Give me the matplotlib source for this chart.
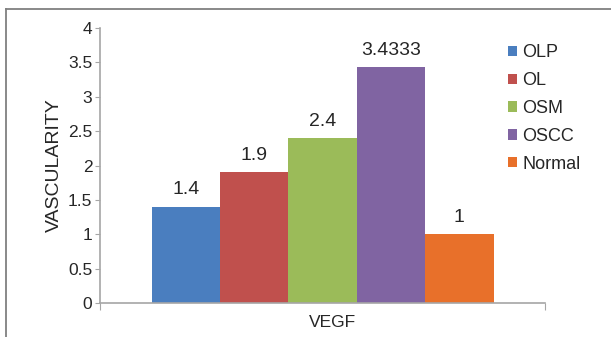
import matplotlib
matplotlib.use("Agg")
import matplotlib.pyplot as plt
from matplotlib.lines import Line2D

plt.rcParams['font.family'] = ['Liberation Sans', 'DejaVu Sans']

groups = ["OLP", "OL", "OSM", "OSCC", "Normal"]
vegf = [1.4, 1.9, 2.4, 3.4333, 1]
value_labels = ["1.4", "1.9", "2.4", "3.4333", "1"]
colors = ["#4A7EBF", "#C0504D", "#9BBB59", "#8064A2", "#E8702A"]
yticks = [0, 0.5, 1, 1.5, 2, 2.5, 3, 3.5, 4]
ytick_labels = ["0", "0.5", "1", "1.5", "2", "2.5", "3", "3.5", "4"]

FS = 12.5
TXT = "#262626"

fig = plt.figure(figsize=(6.11, 3.37), dpi=100)
ax = fig.add_axes([0.1637, 0.1009, 0.7283, 0.816])

bw = 0.1537
for i, (name, v, c, lab) in enumerate(zip(groups, vegf, colors, value_labels)):
    x = (i - 2) * bw
    ax.bar(x, v, width=bw, color=c, label=name, zorder=2)
    ax.annotate(lab, (x, v), xytext=(0, 6), textcoords="offset points",
                ha="center", va="bottom", fontsize=14, color=TXT)

ax.set_xlim(-0.5, 0.5)
ax.set_ylim(0, 4)
ax.set_yticks(yticks)
ax.set_yticklabels(ytick_labels, fontsize=FS, color=TXT)
ax.set_xticks([-0.5, 0.5])
ax.set_xticklabels(["", ""])
ax.tick_params(axis="y", direction="out", length=3.5, color="#A6A6A6", pad=2)
ax.tick_params(axis="x", direction="out", length=5, color="#A6A6A6")
for s in ["top", "right"]:
    ax.spines[s].set_visible(False)
for s in ["left", "bottom"]:
    ax.spines[s].set_color("#A6A6A6")
    ax.spines[s].set_linewidth(1.2)

ax.set_xlabel("VEGF", fontsize=FS, color=TXT)
ax.xaxis.set_label_coords(0.522, -0.045)
ax.set_ylabel("VASCULARITY", fontsize=14, color=TXT)
ax.yaxis.set_label_coords(-0.083, 0.5)

leg = fig.legend(loc="upper left", bbox_to_anchor=(0.819, 0.89), frameon=False,
                 fontsize=13, handlelength=0.5, handleheight=0.5,
                 handletextpad=0.3, labelspacing=0.6, borderaxespad=0)
for t in leg.get_texts():
    t.set_color(TXT)

# outer frame (top and left edges)
fig.add_artist(Line2D([0.0098, 1.0], [0.973, 0.973], transform=fig.transFigure,
                      color="#808080", lw=1.3))
fig.add_artist(Line2D([0.0098, 0.0098], [0.0, 0.973], transform=fig.transFigure,
                      color="#808080", lw=1.3))

fig.savefig("out.png", dpi=100)
